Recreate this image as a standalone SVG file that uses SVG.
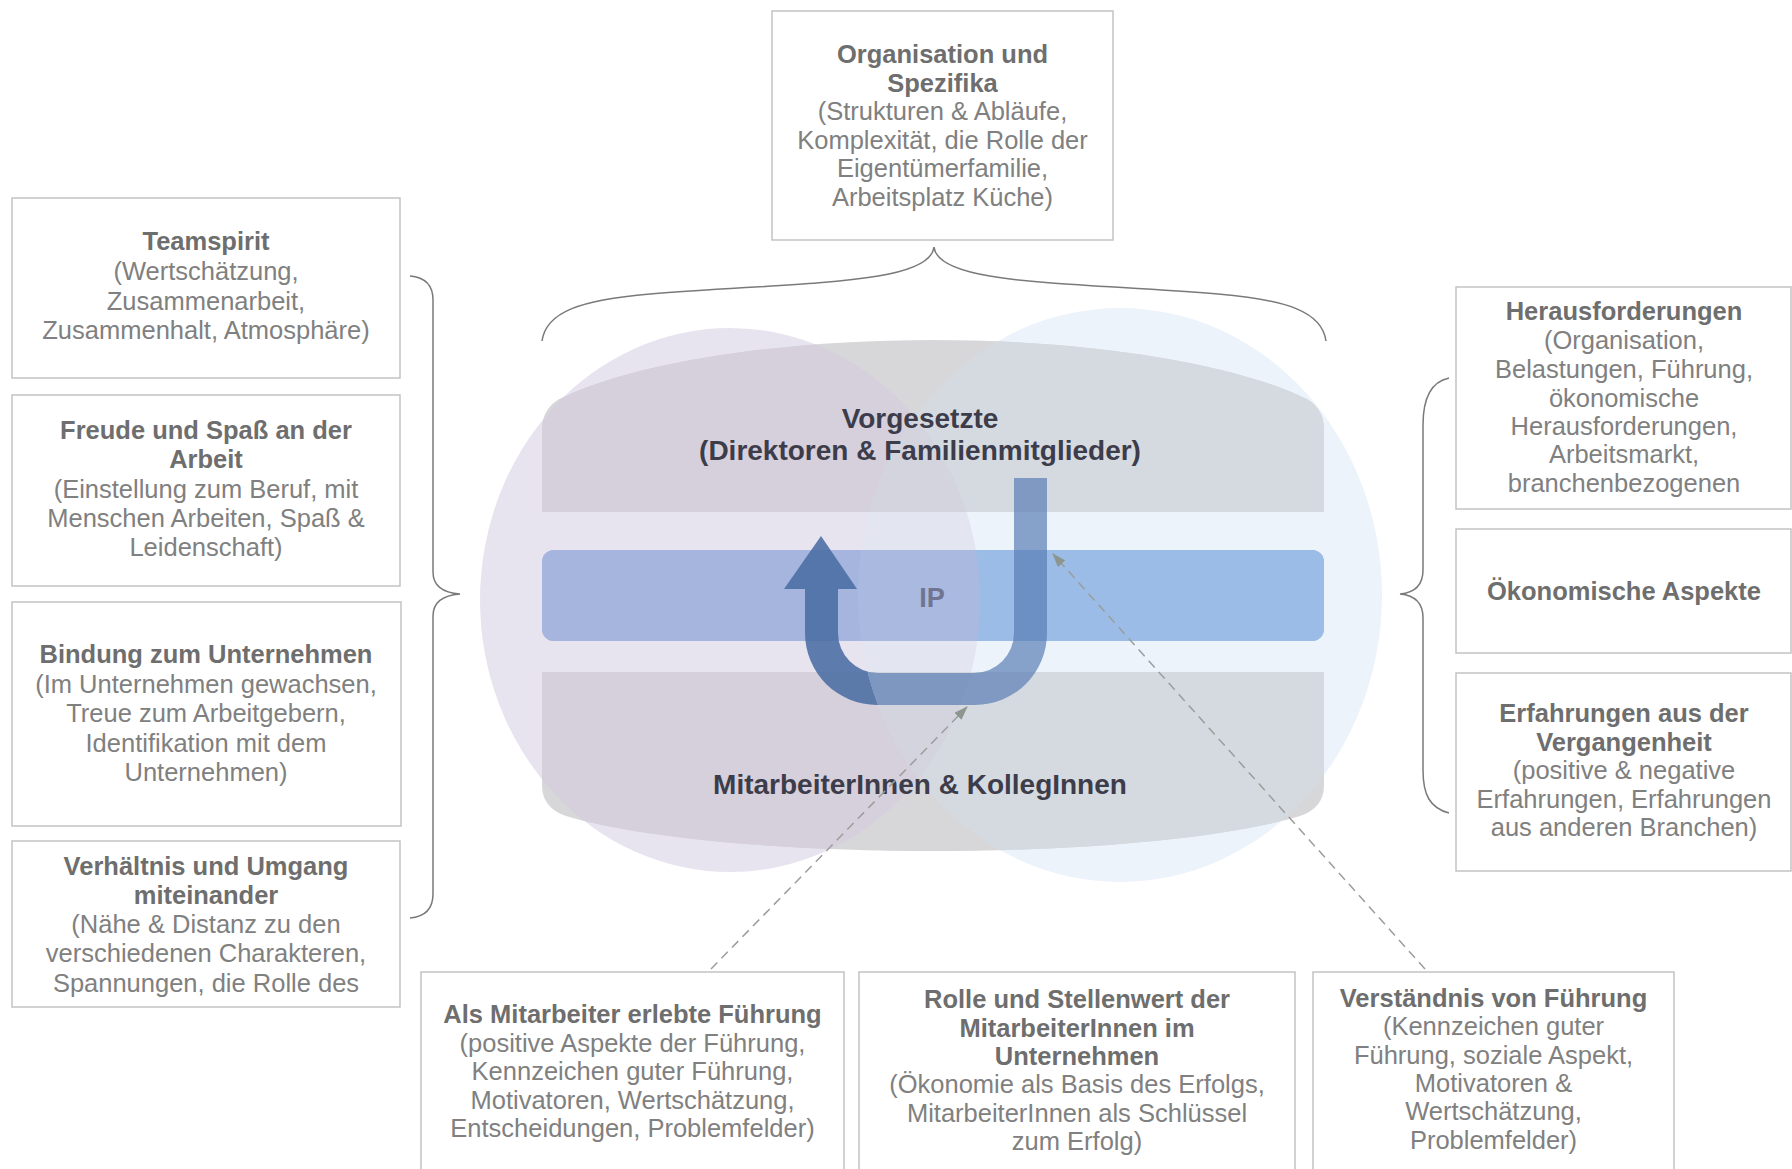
<svg xmlns="http://www.w3.org/2000/svg" xmlns:xlink="http://www.w3.org/1999/xlink" width="1792" height="1169" viewBox="0 0 1792 1169">
<style>
.box{fill:#FFFFFF;stroke:#C3C3C3;stroke-width:1.5}
.t{font-family:"Liberation Sans",Arial,sans-serif;font-size:25.5px;fill:#808080;text-anchor:middle}
.b{font-weight:bold;fill:#6E6E6E}
.c{font-family:"Liberation Sans",Arial,sans-serif;font-size:28px;font-weight:bold;fill:#3D3C4A;text-anchor:middle}
.brace{fill:none;stroke:#7A7A7A;stroke-width:1.5}
.dash{fill:none;stroke:#9A9E9B;stroke-width:1.5;stroke-dasharray:9 6}
</style>
<defs>
<clipPath id="cR"><ellipse cx="1120" cy="595" rx="262" ry="287"/></clipPath>
<clipPath id="cL"><ellipse cx="730" cy="600" rx="250" ry="272"/></clipPath>
<clipPath id="cOutR"><path clip-rule="evenodd" d="M0,0 H1792 V1169 H0 Z M858,595 A262,287 0 1 0 1382,595 A262,287 0 1 0 858,595 Z"/></clipPath>
<clipPath id="clipH"><rect x="1456" y="287" width="336" height="214"/></clipPath>
<clipPath id="clipV"><rect x="12" y="841" width="388" height="158"/></clipPath>
<path id="bandTop" d="M542,512 V430 Q542,405 566,396 C640,362 780,340 933,340 C1086,340 1226,362 1300,396 Q1324,405 1324,430 V512 Z"/>
<path id="bandBot" d="M542,672 V785 Q542,808 566,816 C640,838 780,851 933,851 C1086,851 1226,838 1300,816 Q1324,808 1324,785 V672 Z"/>
<rect id="bar" x="542" y="550" width="782" height="91" rx="12"/>
<path id="uarrow" d="M1014,478 H1047 V633 A72,72 0 0 1 975,705 H877 A72,72 0 0 1 805,633 V589 H784 L821,536 L857,589 H838 V633 A40,40 0 0 0 878,673 H974 A40,40 0 0 0 1014,633 Z"/>
<marker id="ah" markerWidth="14" markerHeight="10" refX="13" refY="5" orient="auto" markerUnits="userSpaceOnUse"><path d="M0,0 L14,5 L0,10 Z" fill="#8C968F"/></marker>
</defs>
<rect width="1792" height="1169" fill="#FFFFFF"/>

<g id="center">
  <ellipse cx="1120" cy="595" rx="262" ry="287" fill="#EDF3FA"/>
  <ellipse cx="730" cy="600" rx="250" ry="272" fill="#E7E4F0"/>
  <g clip-path="url(#cR)"><ellipse cx="730" cy="600" rx="250" ry="272" fill="#E3E5F1"/></g>
  <g fill="#D7D7DA"><use href="#bandTop"/><use href="#bandBot"/></g>
  <use href="#bar" fill="#A2B8E0"/>
  <g clip-path="url(#cL)"><g fill="#D5D0DC"><use href="#bandTop"/><use href="#bandBot"/></g><use href="#bar" fill="#A6B5DD"/></g>
  <g clip-path="url(#cR)"><g fill="#D5DAE0"><use href="#bandTop"/><use href="#bandBot"/></g><use href="#bar" fill="#9ABCE7"/></g>
  <g clip-path="url(#cR)"><g clip-path="url(#cL)"><g fill="#D3D4DE"><use href="#bandTop"/><use href="#bandBot"/></g><use href="#bar" fill="#AAB9E0"/></g></g>
  <g clip-path="url(#cOutR)"><use href="#uarrow" fill="#4A6DA3" fill-opacity="0.88"/></g>
  <g clip-path="url(#cR)"><use href="#uarrow" fill="#5A7DB5" fill-opacity="0.7"/></g>
  <text class="c" x="920" y="428">Vorgesetzte</text>
  <text class="c" x="920" y="460">(Direktoren &amp; Familienmitglieder)</text>
  <text class="c" x="932" y="607" style="fill:#6F7590;font-size:27px">IP</text>
  <text class="c" x="920" y="794">MitarbeiterInnen &amp; KollegInnen</text>
</g>

<g id="braces">
  <path class="brace" d="M542,341 C546,312 580,300 650,294 C800,282 930,285 934,247 C938,285 1068,282 1218,294 C1288,300 1322,312 1326,341"/>
  <path class="brace" d="M410,276 Q433,278 433,300 V572 Q433,592 460,594 Q433,596 433,616 V894 Q433,916 410,918"/>
  <path class="brace" d="M1449,378 C1430,382 1423,400 1423,425 V570 Q1423,592 1400,594 Q1423,596 1423,618 V770 C1423,795 1430,808 1449,813"/>
</g>

<g id="connectors">
  <path class="dash" d="M711,969 L967,707" marker-end="url(#ah)"/>
  <path class="dash" d="M1425,969 L1053,554" marker-end="url(#ah)"/>
</g>

<g id="organisation">
  <rect class="box" x="772" y="11" width="341" height="229"/>
  <text class="t b" x="942.5" y="63">Organisation und</text>
  <text class="t b" x="942.5" y="92">Spezifika</text>
  <text class="t" x="942.5" y="120">(Strukturen &amp; Abläufe,</text>
  <text class="t" x="942.5" y="149">Komplexität, die Rolle der</text>
  <text class="t" x="942.5" y="177">Eigentümerfamilie,</text>
  <text class="t" x="942.5" y="206">Arbeitsplatz Küche)</text>
</g>

<g id="teamspirit">
  <rect class="box" x="12" y="198" width="388" height="180"/>
  <text class="t b" x="206" y="250">Teamspirit</text>
  <text class="t" x="206" y="280">(Wertschätzung,</text>
  <text class="t" x="206" y="310">Zusammenarbeit,</text>
  <text class="t" x="206" y="339">Zusammenhalt, Atmosphäre)</text>
</g>

<g id="freude">
  <rect class="box" x="12" y="395" width="388" height="191"/>
  <text class="t b" x="206" y="439">Freude und Spaß an der</text>
  <text class="t b" x="206" y="468">Arbeit</text>
  <text class="t" x="206" y="498">(Einstellung zum Beruf, mit</text>
  <text class="t" x="206" y="527">Menschen Arbeiten, Spaß &amp;</text>
  <text class="t" x="206" y="556">Leidenschaft)</text>
</g>

<g id="bindung">
  <rect class="box" x="12" y="602" width="389" height="224"/>
  <text class="t b" x="206" y="663">Bindung zum Unternehmen</text>
  <text class="t" x="206" y="693">(Im Unternehmen gewachsen,</text>
  <text class="t" x="206" y="722">Treue zum Arbeitgebern,</text>
  <text class="t" x="206" y="752">Identifikation mit dem</text>
  <text class="t" x="206" y="781">Unternehmen)</text>
</g>

<g id="verhaeltnis">
  <rect class="box" x="12" y="841" width="388" height="166"/>
  <g clip-path="url(#clipV)">
  <text class="t b" x="206" y="875">Verhältnis und Umgang</text>
  <text class="t b" x="206" y="904">miteinander</text>
  <text class="t" x="206" y="933">(Nähe &amp; Distanz zu den</text>
  <text class="t" x="206" y="962">verschiedenen Charakteren,</text>
  <text class="t" x="206" y="992">Spannungen, die Rolle des</text>
  </g>
</g>

<g id="herausforderungen">
  <rect class="box" x="1456" y="287" width="335" height="222"/>
  <g clip-path="url(#clipH)">
  <text class="t b" x="1624" y="320">Herausforderungen</text>
  <text class="t" x="1624" y="349">(Organisation,</text>
  <text class="t" x="1624" y="378">Belastungen, Führung,</text>
  <text class="t" x="1624" y="407">ökonomische</text>
  <text class="t" x="1624" y="435">Herausforderungen,</text>
  <text class="t" x="1624" y="463">Arbeitsmarkt,</text>
  <text class="t" x="1624" y="492">branchenbezogenen</text>
  </g>
</g>

<g id="oekonomische">
  <rect class="box" x="1456" y="529" width="335" height="124"/>
  <text class="t b" x="1624" y="600">Ökonomische Aspekte</text>
</g>

<g id="erfahrungen">
  <rect class="box" x="1456" y="673" width="335" height="198"/>
  <text class="t b" x="1624" y="722">Erfahrungen aus der</text>
  <text class="t b" x="1624" y="751">Vergangenheit</text>
  <text class="t" x="1624" y="779">(positive &amp; negative</text>
  <text class="t" x="1624" y="808">Erfahrungen, Erfahrungen</text>
  <text class="t" x="1624" y="836">aus anderen Branchen)</text>
</g>

<g id="als-mitarbeiter">
  <rect class="box" x="421" y="972" width="423" height="210"/>
  <text class="t b" x="632.5" y="1023">Als Mitarbeiter erlebte Führung</text>
  <text class="t" x="632.5" y="1052">(positive Aspekte der Führung,</text>
  <text class="t" x="632.5" y="1080">Kennzeichen guter Führung,</text>
  <text class="t" x="632.5" y="1109">Motivatoren, Wertschätzung,</text>
  <text class="t" x="632.5" y="1137">Entscheidungen, Problemfelder)</text>
</g>

<g id="rolle">
  <rect class="box" x="859" y="972" width="436" height="210"/>
  <text class="t b" x="1077" y="1008">Rolle und Stellenwert der</text>
  <text class="t b" x="1077" y="1037">MitarbeiterInnen im</text>
  <text class="t b" x="1077" y="1065">Unternehmen</text>
  <text class="t" x="1077" y="1093">(Ökonomie als Basis des Erfolgs,</text>
  <text class="t" x="1077" y="1122">MitarbeiterInnen als Schlüssel</text>
  <text class="t" x="1077" y="1150">zum Erfolg)</text>
</g>

<g id="verstaendnis">
  <rect class="box" x="1313" y="972" width="361" height="210"/>
  <text class="t b" x="1493.5" y="1007">Verständnis von Führung</text>
  <text class="t" x="1493.5" y="1035">(Kennzeichen guter</text>
  <text class="t" x="1493.5" y="1064">Führung, soziale Aspekt,</text>
  <text class="t" x="1493.5" y="1092">Motivatoren &amp;</text>
  <text class="t" x="1493.5" y="1120">Wertschätzung,</text>
  <text class="t" x="1493.5" y="1149">Problemfelder)</text>
</g>
</svg>
